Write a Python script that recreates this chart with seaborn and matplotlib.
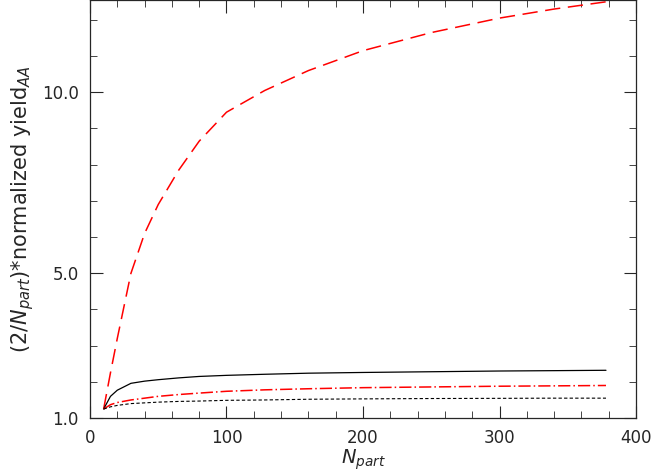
import matplotlib
matplotlib.use("Agg")
import matplotlib.pyplot as plt
import seaborn as sns
import pandas as pd
from matplotlib.ticker import MultipleLocator

npart = [10, 15, 20, 30, 40, 50, 65, 80, 100, 128, 160, 200, 250, 300, 340, 378]
red_dashed = [1.25, 2.25, 3.2, 5.0, 6.1, 6.9, 7.85, 8.65, 9.45, 10.05, 10.6, 11.15, 11.65, 12.05, 12.3, 12.5]
black_solid = [1.25, 1.6, 1.77, 1.96, 2.02, 2.06, 2.11, 2.15, 2.18, 2.21, 2.24, 2.26, 2.28, 2.30, 2.31, 2.32]
red_dashdot = [1.25, 1.37, 1.43, 1.5, 1.55, 1.6, 1.65, 1.69, 1.74, 1.78, 1.81, 1.84, 1.86, 1.88, 1.89, 1.9]
black_dashed = [1.25, 1.31, 1.35, 1.40, 1.42, 1.44, 1.46, 1.47, 1.49, 1.50, 1.52, 1.53, 1.54, 1.545, 1.55, 1.55]

df = pd.DataFrame({"npart": npart, "rd": red_dashed, "bs": black_solid,
                   "rdd": red_dashdot, "bd": black_dashed})

sns.set_style("ticks")
fig = plt.figure(figsize=(6.54, 4.74), dpi=100)
ax = fig.add_axes([0.1376, 0.118, 0.8349, 0.882])

sns.lineplot(data=df, x="npart", y="rd", ax=ax, color="red", lw=1.1)
ax.lines[-1].set_dashes([10, 5])
sns.lineplot(data=df, x="npart", y="bs", ax=ax, color="black", lw=0.9)
sns.lineplot(data=df, x="npart", y="rdd", ax=ax, color="red", lw=1.1)
ax.lines[-1].set_dashes([8, 2, 1, 2])
sns.lineplot(data=df, x="npart", y="bd", ax=ax, color="black", lw=0.8)
ax.lines[-1].set_dashes([3, 2])

ax.set_xlim(0, 400)
ax.set_ylim(1.0, 12.55)
ax.set_xticks([0, 100, 200, 300, 400])
ax.xaxis.set_minor_locator(MultipleLocator(20))
ax.set_yticks([1.0, 5.0, 10.0])
ax.set_yticklabels(["1.0", "5.0", "10.0"])
ax.yaxis.set_minor_locator(MultipleLocator(1.0))
ax.tick_params(which="both", direction="in", top=True, right=True, labelsize=12, pad=8)
ax.tick_params(which="major", length=9)
ax.tick_params(which="minor", length=5)
for s in ax.spines.values():
    s.set_linewidth(0.9)
ax.set_xlabel(r"$N_{part}$", fontsize=14, labelpad=0)
ax.set_ylabel(r"(2/$N_{part}$)*normalized yield$_{AA}$", fontsize=15, labelpad=4)

fig.savefig("out.png", dpi=100)
